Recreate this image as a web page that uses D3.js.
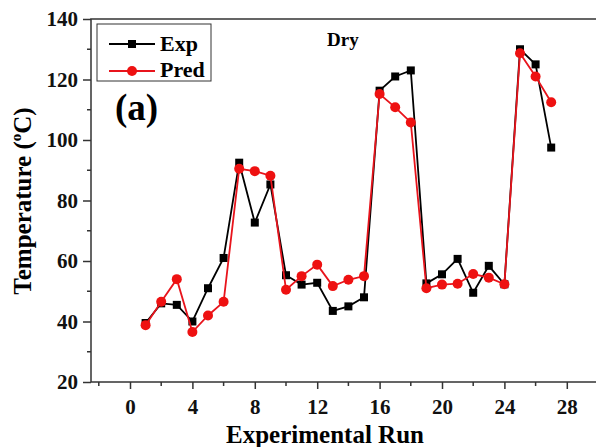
<!DOCTYPE html>
<html lang="en">
  <head>
    <meta charset="UTF-8" />
    <script src="https://d3js.org/d3.v7.min.js"></script>
    <title>Dry</title>
    <style>
      body { margin: 0; background: #fff; }
      text { font-family: "Liberation Serif", "Times New Roman", serif; font-weight: bold; }
    </style>
  </head>
  <body>
    <script>
      const runs = d3.range(1, 28);
      const expValues = [39.5, 46, 45.5, 40, 51, 61, 92.5, 72.7, 85.3, 55.3, 52.2, 52.8, 43.5, 45, 48,
        116.3, 121, 123, 52.6, 55.6, 60.7, 49.5, 58.4, 52.3, 130, 125, 97.5];
      const predValues = [38.8, 46.5, 54, 36.5, 42, 46.5, 90.5, 89.7, 88.2, 50.5, 55, 58.8, 51.7, 53.8, 55,
        115.2, 110.8, 105.8, 51, 52.2, 52.5, 55.7, 54.5, 52.3, 128.7, 121, 112.5];
      const xTicks = [0, 4, 8, 12, 16, 20, 24, 28];
      const yTicks = [20, 40, 60, 80, 100, 120, 140];

      const svg = d3.select("body").append("svg")
        .attr("width", 596).attr("height", 447);

      const x = d3.scaleLinear().domain([-2.5, 30]).range([91, 598]);
      const y = d3.scaleLinear().domain([20, 140]).range([382, 19]);

      // frame
      svg.append("rect")
        .attr("x", x(-2.5)).attr("y", y(140))
        .attr("width", x(30) - x(-2.5)).attr("height", y(20) - y(140))
        .attr("fill", "none").attr("stroke", "#333").attr("stroke-width", 1.5);

      // minor ticks
      const xMinor = d3.range(-2, 30, 4);
      svg.append("g").selectAll("line").data(xMinor).join("line")
        .attr("x1", d => x(d)).attr("x2", d => x(d))
        .attr("y1", y(20)).attr("y2", y(20) + 4)
        .attr("stroke", "#333").attr("stroke-width", 1.5);
      const yMinor = d3.range(30, 140, 20);
      svg.append("g").selectAll("line").data(yMinor).join("line")
        .attr("x1", x(-2.5) - 4).attr("x2", x(-2.5))
        .attr("y1", d => y(d)).attr("y2", d => y(d))
        .attr("stroke", "#333").attr("stroke-width", 1.5);

      const gx = svg.append("g").attr("transform", `translate(0,${y(20)})`)
        .call(d3.axisBottom(x).tickValues(xTicks).tickSize(7).tickPadding(10));
      gx.select(".domain").remove();
      gx.selectAll("line").attr("stroke", "#333").attr("stroke-width", 1.5);
      gx.selectAll("text").style("font-size", "21px").attr("fill", "#111");

      const gy = svg.append("g").attr("transform", `translate(${x(-2.5)},0)`)
        .call(d3.axisLeft(y).tickValues(yTicks).tickSize(8).tickPadding(5));
      gy.select(".domain").remove();
      gy.selectAll("line").attr("stroke", "#333").attr("stroke-width", 1.5);
      gy.selectAll("text").style("font-size", "21px").attr("fill", "#111");

      const line = (vals) => d3.line().x((d, i) => x(runs[i])).y(d => y(d))(vals);

      // Exp
      svg.append("path").attr("d", line(expValues))
        .attr("fill", "none").attr("stroke", "#000").attr("stroke-width", 1.8);
      svg.append("g").selectAll("rect").data(expValues).join("rect")
        .attr("x", (d, i) => x(runs[i]) - 4).attr("y", d => y(d) - 4)
        .attr("width", 8).attr("height", 8).attr("fill", "#000");

      // Pred
      svg.append("path").attr("d", line(predValues))
        .attr("fill", "none").attr("stroke", "#e8141c").attr("stroke-width", 1.8);
      svg.append("g").selectAll("circle").data(predValues).join("circle")
        .attr("cx", (d, i) => x(runs[i])).attr("cy", d => y(d))
        .attr("r", 5).attr("fill", "#ee1111");

      // legend
      const lg = svg.append("g");
      lg.append("rect").attr("x", 97).attr("y", 24).attr("width", 114).attr("height", 57)
        .attr("fill", "#fff").attr("stroke", "#333").attr("stroke-width", 1);
      lg.append("line").attr("x1", 109).attr("x2", 155).attr("y1", 44).attr("y2", 44)
        .attr("stroke", "#000").attr("stroke-width", 1.8);
      lg.append("rect").attr("x", 128).attr("y", 40).attr("width", 8).attr("height", 8).attr("fill", "#000");
      lg.append("text").attr("x", 160).attr("y", 51).text("Exp").style("font-size", "22px");
      lg.append("line").attr("x1", 109).attr("x2", 155).attr("y1", 71).attr("y2", 71)
        .attr("stroke", "#e8141c").attr("stroke-width", 1.8);
      lg.append("circle").attr("cx", 132).attr("cy", 71).attr("r", 5).attr("fill", "#ee1111");
      lg.append("text").attr("x", 160).attr("y", 77).text("Pred").style("font-size", "22px");

      svg.append("text").attr("x", 115).attr("y", 120).text("(a)").style("font-size", "37px");
      svg.append("text").attr("x", 327).attr("y", 46).text("Dry").style("font-size", "19px");

      // axis titles
      svg.append("text").attr("x", x(12.5)).attr("y", 443).attr("text-anchor", "middle")
        .text("Experimental Run").style("font-size", "25px");
      const yt = svg.append("text")
        .attr("transform", "translate(31,201) rotate(-90)")
        .attr("text-anchor", "middle").style("font-size", "25px");
      yt.append("tspan").text("Temperature (");
      yt.append("tspan").attr("dy", -10).style("font-size", "15px").text("o");
      yt.append("tspan").attr("dy", 10).text("C)");
    </script>
  </body>
</html>
